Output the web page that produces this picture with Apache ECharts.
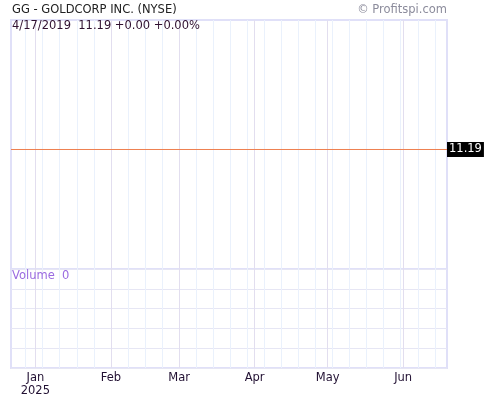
<!DOCTYPE html>
<html>
<head>
<meta charset="utf-8">
<script src="https://cdn.jsdelivr.net/npm/echarts@6/dist/echarts.min.js"></script>
<style>
  html, body { margin: 0; padding: 0; background: #fff; }
  #main { width: 500px; height: 400px; }
</style>
</head>
<body>
<div id="main"></div>
<script>
// quote data
var symbolName = 'GG - GOLDCORP INC. (NYSE)';
var quoteDate = '4/17/2019';
var lastPrice = 11.19;
var change = '+0.00';
var changePct = '+0.00%';
var volume = 0;

// visible range and price points
var startDate = '2024-12-22';
var endDate = '2025-06-19';
var priceDates = ['2024-12-22', '2025-06-19'];
var priceValues = [11.19, 11.19];

// tick labels
var monthLabels = ['Jan', 'Feb', 'Mar', 'Apr', 'May', 'Jun', 'Jul', 'Aug', 'Sep', 'Oct', 'Nov', 'Dec'];

// one category per calendar day
var days = [];
for (var t = Date.parse(startDate); t <= Date.parse(endDate); t += 86400000) {
    days.push(new Date(t).toISOString().slice(0, 10));
}
function isMonthStart(i, v) { return v.slice(8) === '01'; }
function isSaturday(i, v) { return new Date(v + 'T00:00:00Z').getUTCDay() === 6; }

var font = 'DejaVu Sans';
var fontSize = 11.5;
var borderColor = '#e0e0f8';
var weekColor = '#eaf1fc';
var monthColor = '#e2deef';

function dayAxis(gridIndex, splitFn, color, showLabels) {
    return {
        type: 'category',
        gridIndex: gridIndex,
        position: 'bottom',
        data: days,
        boundaryGap: false,
        axisLine: { show: false },
        axisTick: { show: false },
        axisLabel: {
            show: showLabels,
            interval: isMonthStart,
            margin: 4,
            fontFamily: font,
            fontSize: fontSize,
            lineHeight: 13,
            color: '#221133',
            formatter: function (v) {
                var m = monthLabels[parseInt(v.slice(5, 7), 10) - 1];
                return v.slice(5, 7) === '01' ? m + '\n' + v.slice(0, 4) : m;
            }
        },
        splitLine: { show: true, interval: splitFn, lineStyle: { color: color, width: 1 } }
    };
}

var myChart = echarts.init(document.getElementById('main'));

var option = {
    animation: false,
    backgroundColor: '#fff',
    title: [
        { text: symbolName, left: 12, top: 4, padding: 0,
          textStyle: { fontFamily: font, fontSize: fontSize, fontWeight: 'normal', color: '#222' } },
        { text: '\u00a9 Profitspi.com', right: 53, top: 4, padding: 0,
          textStyle: { fontFamily: font, fontSize: fontSize, fontWeight: 'normal', color: '#8c8c9c' } },
        { text: quoteDate + '  ' + lastPrice.toFixed(2) + ' ' + change + ' ' + changePct, left: 12, top: 20, padding: 0,
          textStyle: { fontFamily: font, fontSize: fontSize, fontWeight: 'normal', color: '#301030' } },
        { text: 'Volume  ' + volume, left: 12, top: 270, padding: 0,
          textStyle: { fontFamily: font, fontSize: fontSize, fontWeight: 'normal', color: '#9b6be0' } }
    ],
    grid: [
        { left: 11, right: 53, top: 20, height: 249, show: true, borderColor: borderColor, borderWidth: 2 },
        { left: 11, right: 53, top: 269, height: 99, show: true, borderColor: borderColor, borderWidth: 2 }
    ],
    xAxis: [
        dayAxis(0, isSaturday, weekColor, false),
        dayAxis(0, isMonthStart, monthColor, false),
        dayAxis(1, isSaturday, weekColor, false),
        dayAxis(1, isMonthStart, monthColor, true)
    ],
    yAxis: [
        { type: 'value', gridIndex: 0, min: 10.15, max: 12.317, show: false },
        { type: 'value', gridIndex: 1, min: 0, max: 5, interval: 1,
          axisLine: { show: false }, axisTick: { show: false }, axisLabel: { show: false },
          splitLine: { show: true, lineStyle: { color: '#e6e6f4', width: 1 } } }
    ],
    series: [
        {
            name: 'Price',
            type: 'line',
            xAxisIndex: 0,
            yAxisIndex: 0,
            symbol: 'none',
            data: priceDates.map(function (d, i) { return [days.indexOf(d), priceValues[i]]; }),
            lineStyle: { color: '#ee8050', width: 1 },
            markLine: {
                silent: true,
                symbol: ['none', 'none'],
                lineStyle: { color: 'rgba(0,0,0,0)', width: 1, type: 'solid' },
                data: [{ yAxis: lastPrice }],
                label: {
                    show: true,
                    position: 'end',
                    distance: 0,
                    formatter: lastPrice.toFixed(2),
                    backgroundColor: '#000',
                    color: '#fff',
                    fontFamily: font,
                    fontSize: fontSize,
                    padding: [2, 2, 1, 2]
                }
            }
        }
    ]
};

myChart.setOption(option);
</script>
</body>
</html>
